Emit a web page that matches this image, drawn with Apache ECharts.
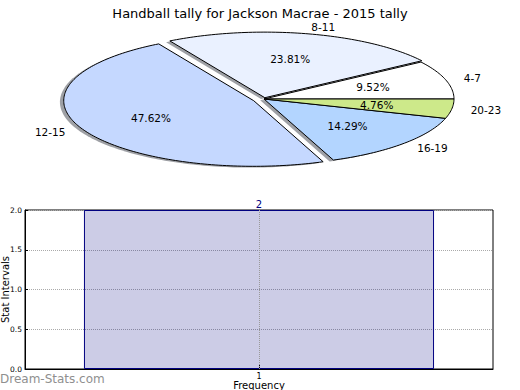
<!DOCTYPE html>
<html>
<head>
<meta charset="utf-8">
<script src="https://cdn.jsdelivr.net/npm/echarts@6/dist/echarts.min.js"></script>
<style>
html,body{margin:0;padding:0;background:#fff;}
#main{width:520px;height:390px;}
</style>
</head>
<body>
<div id="main"></div>
<script>
// ---- data ----
const chartTitle = 'Handball tally for Jackson Macrae - 2015 tally';
const sliceLabels = ['4-7', '8-11', '12-15', '16-19', '20-23'];
const sliceCounts = [2, 5, 10, 3, 1];
const barCategories = ['1'];
const barValues = [2];
const yAxisName = 'Stat Intervals';
const xAxisName = 'Frequency';
const watermark = 'Dream-Stats.com';

// ---- styles / layout ----
const sliceColors = ['#ffffff', '#eaf1ff', '#c5d8ff', '#b3d5ff', '#cde98a'];
const sliceExplode = [0, 0.02, 0.06, 0, 0];
const FONT = 'DejaVu Sans';
const PIE_CX = 264, PIE_CY = 99, RX = 190, RY = 65.6, PIE_H = 180, W = 520;

const total = sliceCounts.reduce((a, b) => a + b, 0);
const startFrac = [];
{ let acc = 0; sliceCounts.forEach(v => { startFrac.push(acc / total); acc += v; }); }

function wedgePoints(api, idx, dx, dy) {
  const v = sliceCounts[idx];
  const t1 = startFrac[idx] * 2 * Math.PI;
  const t2 = (startFrac[idx] + v / total) * 2 * Math.PI;
  const tm = (t1 + t2) / 2;
  const e = sliceExplode[idx];
  const ox = e * Math.cos(tm) + dx, oy = e * Math.sin(tm) + dy;
  const pts = [api.coord([ox, oy])];
  const n = Math.max(8, Math.ceil((t2 - t1) / 0.02));
  for (let k = 0; k <= n; k++) {
    const t = t1 + (t2 - t1) * k / n;
    pts.push(api.coord([ox + Math.cos(t), oy + Math.sin(t)]));
  }
  return { pts, tm, ox, oy };
}

const option = {
  animation: false,
  backgroundColor: '#ffffff',
  title: {
    text: chartTitle, left: 'center', top: 2,
    textStyle: { fontSize: 13, fontWeight: 'normal', color: '#000', fontFamily: FONT }
  },
  graphic: [{
    type: 'text', left: 0, top: 373, z: 100,
    style: { text: watermark, fill: '#8f8f8f', font: '12px "' + FONT + '"' }
  }],
  grid: [
    { left: 0, top: 0, width: W, height: PIE_H, show: false, containLabel: false, outerBoundsMode: 'none' },
    { left: 25, top: 210, width: 468, height: 159, show: true, borderColor: '#000', borderWidth: 1,
      backgroundColor: 'transparent', containLabel: false, outerBoundsMode: 'none' }
  ],
  xAxis: [
    { gridIndex: 0, type: 'value', show: false, min: -PIE_CX / RX, max: (W - PIE_CX) / RX },
    {
      gridIndex: 1, type: 'category', data: barCategories,
      axisLine: { show: true, lineStyle: { color: '#000', width: 1 } },
      axisTick: { show: true, inside: true, alignWithLabel: true, length: 4, lineStyle: { color: '#000' } },
      axisLabel: { fontSize: 8, color: '#000', margin: 3, fontFamily: FONT },
      splitLine: { show: false },
      name: xAxisName, nameLocation: 'middle', nameGap: 11, nameMoveOverlap: false,
      nameTextStyle: { fontSize: 10, lineHeight: 10, color: '#000', fontFamily: FONT }
    }
  ],
  yAxis: [
    { gridIndex: 0, type: 'value', show: false, min: -(PIE_H - PIE_CY) / RY, max: PIE_CY / RY },
    {
      gridIndex: 1, type: 'value', min: 0, max: 2, interval: 0.5,
      axisLine: { show: true, lineStyle: { color: '#000', width: 1 } },
      axisTick: { show: true, inside: true, length: 3, lineStyle: { color: '#000' } },
      axisLabel: { fontSize: 7.5, color: '#000', margin: 3, fontFamily: FONT, formatter: v => v.toFixed(1) },
      splitLine: { show: true, lineStyle: { type: 'dotted', color: '#aaaaaa', width: 1 } },
      name: yAxisName, nameLocation: 'middle', nameRotate: 90, nameGap: 14, nameMoveOverlap: false,
      nameTextStyle: { fontSize: 10, lineHeight: 11, color: '#000', fontFamily: FONT }
    }
  ],
  series: [
    {
      // shadows
      type: 'custom', xAxisIndex: 0, yAxisIndex: 0, z: 1, silent: true,
      data: sliceCounts,
      renderItem: (params, api) => {
        const w = wedgePoints(api, params.dataIndex, -0.02, -0.02);
        return { type: 'polygon', shape: { points: w.pts }, style: { fill: 'rgba(40,45,55,0.45)', stroke: null } };
      }
    },
    {
      // wedges + labels
      type: 'custom', xAxisIndex: 0, yAxisIndex: 0, z: 2, silent: true,
      data: sliceCounts,
      renderItem: (params, api) => {
        const i = params.dataIndex;
        const w = wedgePoints(api, i, 0, 0);
        const lp = api.coord([w.ox + 1.1 * Math.cos(w.tm), w.oy + 1.1 * Math.sin(w.tm)]);
        const pp = api.coord([w.ox + 0.6 * Math.cos(w.tm), w.oy + 0.6 * Math.sin(w.tm)]);
        const pct = (api.value(0) / total * 100).toFixed(2) + '%';
        return {
          type: 'group',
          children: [
            { type: 'polygon', shape: { points: w.pts },
              style: { fill: sliceColors[i], stroke: '#000', lineWidth: 1, lineJoin: 'miter' } },
            { type: 'text', z2: 10,
              style: { text: sliceLabels[i], x: lp[0], y: lp[1],
                align: Math.cos(w.tm) > 0 ? 'left' : 'right', verticalAlign: 'middle',
                fill: '#000', fontSize: 10.5, fontFamily: FONT } },
            { type: 'text', z2: 10,
              style: { text: pct, x: pp[0], y: pp[1], align: 'center', verticalAlign: 'middle',
                fill: '#000', fontSize: 10.5, fontFamily: FONT } }
          ]
        };
      }
    },
    {
      type: 'bar', xAxisIndex: 1, yAxisIndex: 1,
      data: barValues, barWidth: '74.8%',
      itemStyle: { color: 'rgba(0,0,128,0.2)', borderColor: '#000080', borderWidth: 1 },
      label: { show: true, position: 'top', distance: 1, color: '#000080', fontSize: 10, fontFamily: FONT },
      markLine: {
        silent: true, symbol: ['none', 'none'], label: { show: false },
        lineStyle: { type: 'dotted', color: '#999999', width: 1 },
        data: [{ xAxis: barCategories[0] }]
      }
    }
  ]
};

const chart = echarts.init(document.getElementById('main'), null, { renderer: 'svg', width: 520, height: 390 });
chart.setOption(option);
</script>
</body>
</html>
